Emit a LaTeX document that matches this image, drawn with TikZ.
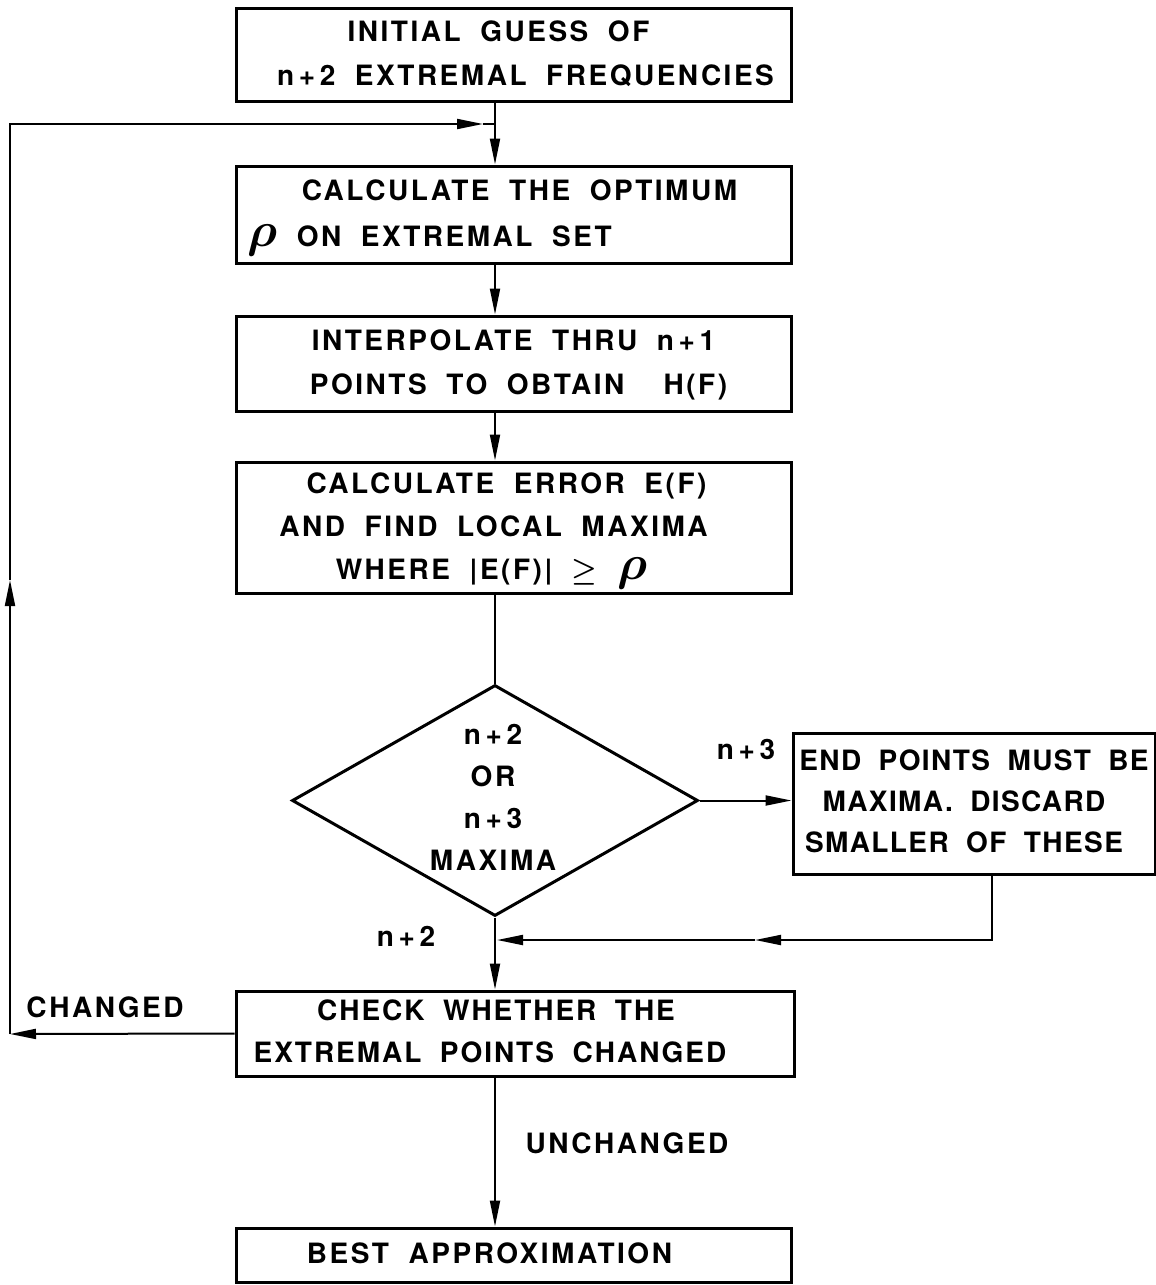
\documentclass[tikz,border=0pt]{standalone}
\usepackage{fontspec}
\setmainfont{TeX Gyre Heros}[LetterSpace=9, WordSpace=1.9]
\usepackage{bm}
\usepackage{graphicx}
\usetikzlibrary{shapes.geometric, arrows.meta}
\newcommand{\lines}[1]{\begin{tabular}{@{}c@{}}#1\end{tabular}}
\newcommand{\bigrho}{\scalebox{1.7}{$\bm{\rho}$}}
\begin{document}
\begin{tikzpicture}[x=0.5pt,y=-0.5pt,
  font=\fontsize{14}{22}\selectfont\bfseries,
  box/.style={draw, line width=1.5pt, inner sep=0pt, rectangle, minimum width=277.5pt},
  conn/.style={line width=1pt},
  arr/.style={conn, -{Triangle[length=13pt,width=5pt]}},
  lbl/.style={inner sep=0pt}]
\useasboundingbox (0,0) rectangle (1156,1285);

% boxes
\node[box, minimum height=46.5pt] (b1) at (513.5,54.5)
  {\lines{INITIAL GUESS OF\hspace*{15pt}\\ \hspace*{12pt}n\,+\,2 EXTREMAL FREQUENCIES}};
\node[box, minimum height=48.5pt] (b2) at (513.5,214.5)
  {\lines{\hspace*{6pt}CALCULATE THE OPTIMUM\\[1pt] \bigrho\ ON EXTREMAL SET\hspace*{84pt}}};
\node[box, minimum height=47.5pt] (b3) at (513.5,363.5)
  {\lines{INTERPOLATE THRU n\,+\,1\\ \hspace*{5pt}POINTS TO OBTAIN \ H(F)}};
\node[box, minimum height=65.5pt] (b4) at (513.5,527.5)
  {\fontsize{14}{21.5}\selectfont\lines{CALCULATE ERROR E(F)\hspace*{7pt}\\ AND FIND LOCAL MAXIMA\hspace*{20pt}\\ WHERE |E(F)| $\bm{\geq}$ \bigrho\hspace*{22pt}}};
\node[draw, diamond, line width=1.5pt, inner sep=0pt, aspect=1.76,
  minimum width=203pt, minimum height=115.5pt] (dec) at (495,800.5) {};
\node[lbl, align=center, font=\fontsize{14}{21}\selectfont\bfseries] (dectext) at (493,797.5)
  {n\,+\,2\\ OR\\ n\,+\,3\\ MAXIMA};
\node[box, minimum width=181pt, minimum height=70.5pt] (rb) at (974,803.5)
  {\fontsize{14}{20.5}\selectfont\addfontfeatures{LetterSpace=5}\lines{END POINTS MUST BE\\ MAXIMA. DISCARD\hspace*{10pt}\\ SMALLER OF THESE\hspace*{10pt}}};
\node[box, minimum width=279pt, minimum height=42.5pt] (b5) at (515,1033.5)
  {\fontsize{14}{21}\selectfont\addfontfeatures{LetterSpace=7}\lines{CHECK WHETHER THE\hspace*{19pt}\\ EXTREMAL POINTS CHANGED\hspace*{25pt}}};
\node[box, minimum height=27pt] (b6) at (513.5,1255)
  {\lines{BEST APPROXIMATION\hspace*{24pt}}};

% labels
\node[lbl] (l3) at (746,749) {n\,+\,3};
\node[lbl] (l2) at (406,936) {n\,+\,2};
\node[lbl] (lc) at (105,1007) {CHANGED};
\node[lbl] (lu) at (627,1143) {UNCHANGED};

% coordinates
\coordinate (m) at (495,0);
\coordinate (jtop) at (495,124);
\coordinate (atop) at (483,124);
\coordinate (ltop) at (10,124);
\coordinate (lbot) at (10,1034);
\coordinate (lmid) at (10,580);
\coordinate (r1) at (992,940);
\coordinate (r2) at (755,940);
\coordinate (j2) at (497,940);

% main flow
\draw[arr] (b1.south -| m) -- (b2.north -| m);
\draw[arr] (b2.south -| m) -- (b3.north -| m);
\draw[arr] (b3.south -| m) -- (b4.north -| m);
\draw[conn] (b4.south -| m) -- (dec.north);
\draw[arr] (dec.east) -- (dec.east -| rb.west);
\draw[arr] (dec.south) -- (b5.north -| m);
\draw[arr] (b5.south -| m) -- (b6.north -| m);

% return from right box
\draw[arr] (rb.south -| r1) -- (r1) -- (r2);
\draw[arr] (r2) -- (j2);

% loop back
\draw[arr] (b5.west) -- (lbot);
\draw[arr] (lbot) -- (lmid);
\draw[arr] (lmid) -- (ltop) -- (atop);
\draw[conn] (atop) -- (jtop);
\end{tikzpicture}
\end{document}
